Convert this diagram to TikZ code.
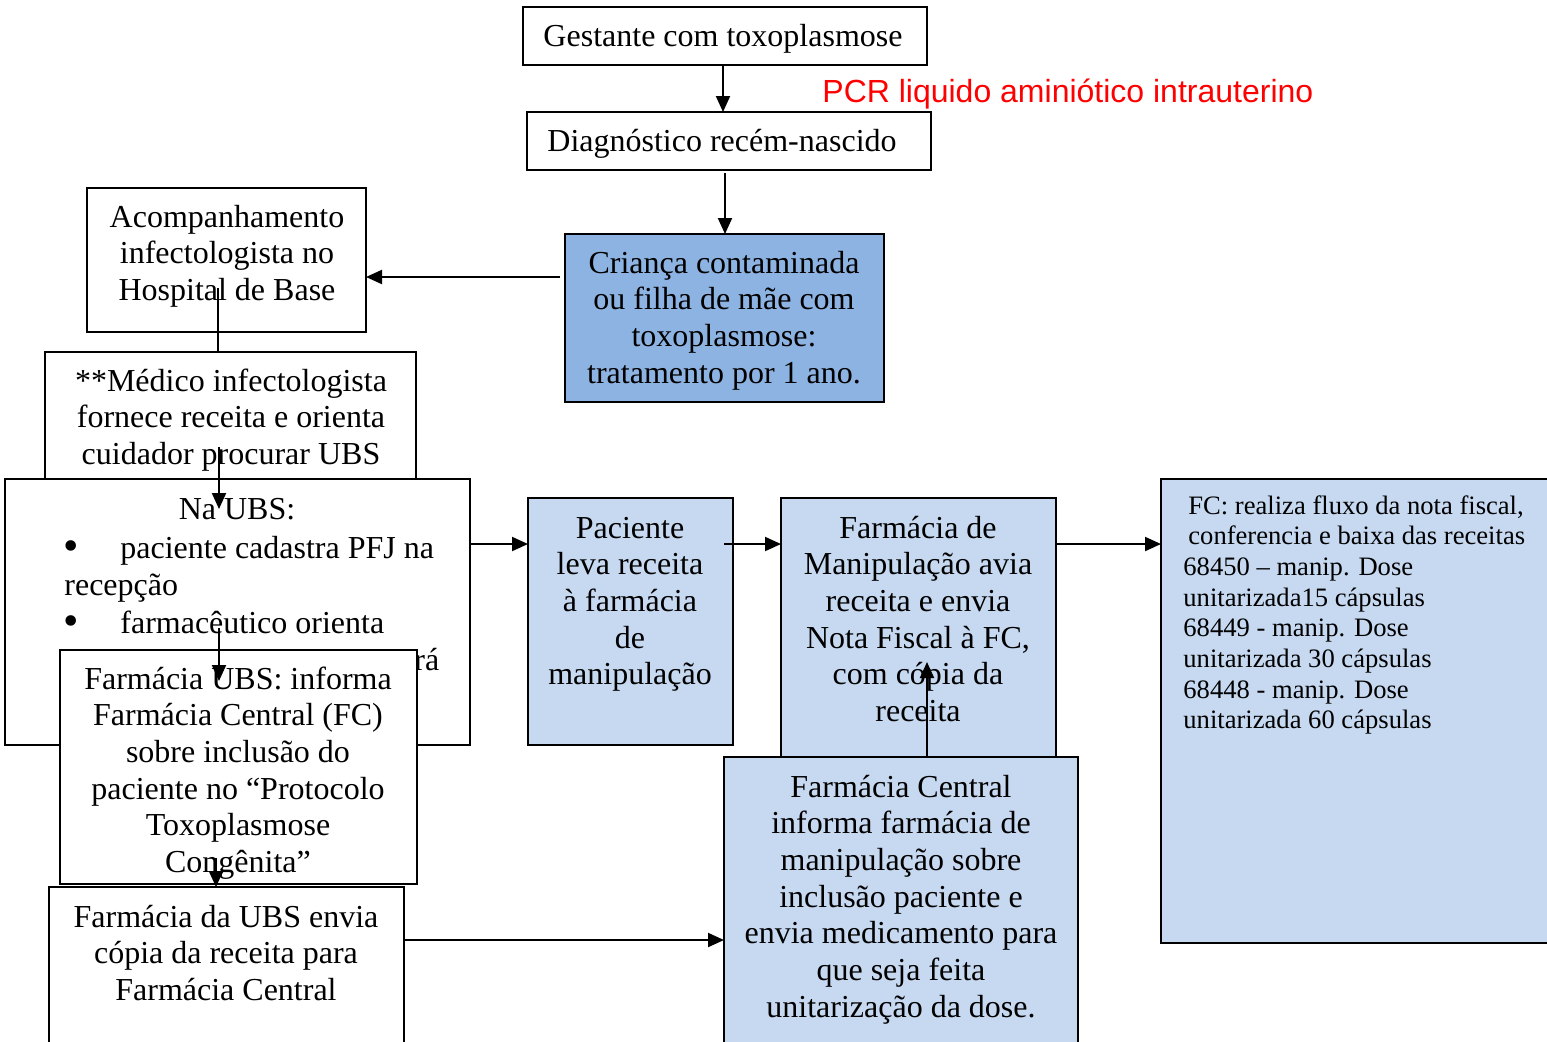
\documentclass[tikz,border=0pt]{standalone}
\usepackage{fontspec}
\setmainfont{Liberation Serif}
\newfontfamily\arialf{Liberation Sans}
\usetikzlibrary{arrows.meta}
\definecolor{darkblue}{RGB}{141,179,226}
\definecolor{lightblue}{RGB}{198,217,241}
\newcommand\mylines[1]{\begin{tabular}[t]{@{}c@{}}#1\end{tabular}}
\newcommand\myleft[1]{\begin{tabular}[t]{@{}l@{}}#1\end{tabular}}
\begin{document}
\begin{tikzpicture}[x=0.5pt,y=-0.5pt,
 box/.style={draw=black, line width=1pt, anchor=north west, inner sep=0pt, outer sep=0pt},
 txt/.style={anchor=base, inner sep=0pt, font=\fontsize{16}{18.35}\selectfont},
 txtl/.style={anchor=base west, inner sep=0pt, font=\fontsize{16}{18.35}\selectfont},
 bul/.style={anchor=base, inner sep=0pt, font=\fontsize{22}{22}\selectfont},
 small/.style={anchor=base west, inner sep=0pt, font=\fontsize{13.3}{15.35}\selectfont},
 arr/.style={line width=1pt, -{Triangle[length=8pt,width=7pt]}},
 ln/.style={line width=1pt}]
\useasboundingbox (0,0) rectangle (1547,1041);

\node[box, minimum width=202pt, minimum height=29pt] (gest) at (523,7) {};
\node[txt] (tgest) at (723,46) {Gestante com toxoplasmose};

\node[anchor=base west, inner sep=0pt, font=\arialf\fontsize{16}{19}\selectfont, text=red] (pcr) at (822,102) {PCR liquido aminiótico intrauterino};

\node[box, minimum width=202pt, minimum height=29pt] (diag) at (527,112) {};
\node[txt] (tdiag) at (722,151) {Diagnóstico recém-nascido};

\node[box, fill=darkblue, minimum width=159.5pt, minimum height=84pt] (cri) at (565,234) {};
\node[txt] (tcri) at (724,273) {\mylines{Criança contaminada\\ou filha de mãe com\\toxoplasmose:\\tratamento por 1 ano.}};

\node[box, minimum width=139.5pt, minimum height=72pt] (acomp) at (87,188) {};
\node[txt] (tacomp) at (227,227) {\mylines{Acompanhamento\\infectologista no\\Hospital de Base}};

\node[box, fill=white, minimum width=185.5pt, minimum height=74pt] (med) at (45,352) {};
\node[txt] (tmed) at (231,391) {\mylines{**Médico infectologista\\fornece receita e orienta\\cuidador procurar UBS}};

\node[box, fill=white, minimum width=232.5pt, minimum height=133pt] (naubs) at (5,479) {};
\node[txt] (tna) at (237,519) {Na UBS:};
\node[bul] (b1) at (71,560) {•};
\node[txtl] (tb1) at (120,558) {paciente cadastra PFJ na};
\node[txtl] (tb1b) at (64,595) {recepção};
\node[bul] (b2) at (71,635) {•};
\node[txtl] (tb2) at (120,633) {farmacêutico orienta};
\node[txtl] (tb3) at (414,670) {rá};

\node[box, fill=white, minimum width=178.5pt, minimum height=117pt] (fubs) at (60,650) {};
\node[txt] (tfubs) at (238,689) {\mylines{Farmácia UBS: informa\\Farmácia Central (FC)\\sobre inclusão do\\paciente no “Protocolo\\Toxoplasmose\\Congênita”}};

\node[box, fill=white, minimum width=177.5pt, minimum height=80pt] (envia) at (49,887) {};
\node[txt] (tenvia) at (226,927) {\mylines{Farmácia da UBS envia\\cópia da receita para\\Farmácia Central}};

\node[box, fill=lightblue, minimum width=102.5pt, minimum height=123.5pt] (pac) at (528,498) {};
\node[txt] (tpac) at (630,538) {\mylines{Paciente\\leva receita\\à farmácia\\de\\manipulação}};

\node[box, fill=lightblue, minimum width=137.5pt, minimum height=129.5pt] (manip) at (781,498) {};
\node[txt] (tmanip) at (918,538) {\mylines{Farmácia de\\Manipulação avia\\receita e envia\\Nota Fiscal à FC,\\com cópia da\\receita}};

\node[box, fill=lightblue, minimum width=177pt, minimum height=145pt] (central) at (724,757) {};
\node[txt] (tcentral) at (901,797) {\mylines{Farmácia Central\\informa farmácia de\\manipulação sobre\\inclusão paciente e\\envia medicamento para\\que seja feita\\unitarização da dose.}};

\node[box, fill=lightblue, minimum width=195pt, minimum height=232pt] (fc) at (1161,479) {};
\node[small] (tfc) at (1183,514) {\myleft{\hspace{2.5pt}FC: realiza fluxo da nota fiscal,\\\hspace{2.5pt}conferencia e baixa das receitas\\68450 – manip. Dose\\unitarizada15 cápsulas\\68449 - manip. Dose\\unitarizada 30 cápsulas\\68448 - manip. Dose\\unitarizada 60 cápsulas}};

% connectors
\coordinate (x723) at (723,0);
\draw[arr] (gest.south -| x723) -- (diag.north -| x723);
\coordinate (d1) at (725,173);
\draw[arr] (d1) -- (cri.north -| d1);
\coordinate (c1) at (560,277);
\draw[arr] (c1) -- (acomp.east |- c1);
\coordinate (a1) at (218,288);
\draw[ln] (a1) -- (med.north -| a1);
\coordinate (m1) at (219,447);
\coordinate (m2) at (219,509);
\draw[arr] (m1) -- (m2);
\coordinate (n1) at (219,628);
\coordinate (n2) at (219,681);
\draw[arr] (n1) -- (n2);
\coordinate (f1) at (216,858);
\draw[arr] (f1) -- (envia.north -| f1);
\coordinate (e1) at (0,940);
\draw[arr] (envia.east |- e1) -- (central.west |- e1);
\coordinate (k1) at (927,0);
\coordinate (k2) at (927,662);
\draw[arr] (central.north -| k1) -- (k2);
\coordinate (r1) at (0,544);
\draw[arr] (naubs.east |- r1) -- (pac.west |- r1);
\coordinate (p1) at (724,544);
\draw[arr] (p1) -- (manip.west |- p1);
\draw[arr] (manip.east |- r1) -- (fc.west |- r1);
\end{tikzpicture}
\end{document}
